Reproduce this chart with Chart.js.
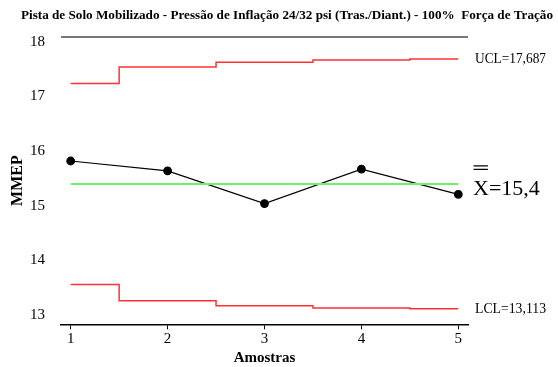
<!DOCTYPE html>
<html>
<head>
<meta charset="utf-8">
<script src="https://cdn.jsdelivr.net/npm/chart.js@4.4.1/dist/chart.umd.min.js"></script>
<style>
html,body{margin:0;padding:0;background:#fff;}
#wrap{width:558px;height:367px;position:relative;}
</style>
</head>
<body>
<div id="wrap"><canvas id="c" width="558" height="367"></canvas></div>
<script>
const chartTitle = "Pista de Solo Mobilizado - Pressão de Inflação 24/32 psi (Tras./Diant.) - 100%  Força de Tração";
const samples = [1, 2, 3, 4, 5];
const means = [15.82, 15.64, 15.04, 15.67, 15.21];
const ucl = [17.24, 17.54, 17.63, 17.67, 17.687];
const lcl = [13.56, 13.26, 13.17, 13.13, 13.113];
const centerValue = 15.4;
const yTicks = [13, 14, 15, 16, 17, 18];
const xTicks = [1, 2, 3, 4, 5];
const uclLabel = "UCL=17,687";
const lclLabel = "LCL=13,113";
const centerLabel = "X=15,4";

const pts = arr => samples.map((s, i) => ({x: s, y: arr[i]}));

const SERIF = "'Liberation Serif', 'Times New Roman', serif";

const annotPlugin = {
  id: 'annot',
  afterDraw(chart) {
    const ctx = chart.ctx;
    const ca = chart.chartArea;
    const ys = chart.scales.y;
    ctx.save();
    // top gray border line
    ctx.strokeStyle = '#777';
    ctx.lineWidth = 2;
    ctx.beginPath();
    ctx.moveTo(ca.left, ca.top);
    ctx.lineTo(ca.right, ca.top);
    ctx.stroke();
    // title
    ctx.fillStyle = '#000';
    ctx.font = "bold 12px " + SERIF;
    ctx.textBaseline = 'middle';
    ctx.textAlign = 'left';
    const tw = ctx.measureText(chartTitle).width;
    const target = 532;
    ctx.save();
    ctx.translate(21, 16);
    ctx.scale(target / tw, 1);
    ctx.fillText(chartTitle, 0, 0);
    ctx.restore();
    // UCL / LCL labels
    ctx.font = "14px " + SERIF;
    const fitText = (txt, x, y, w) => {
      const m = ctx.measureText(txt).width;
      ctx.save();
      ctx.translate(x, y);
      ctx.scale(w / m, 1);
      ctx.fillText(txt, 0, 0);
      ctx.restore();
    };
    fitText(uclLabel, 475, ys.getPixelForValue(ucl[ucl.length - 1]), 71);
    fitText(lclLabel, 475, ys.getPixelForValue(lcl[lcl.length - 1]), 71);
    // center label with double bar
    ctx.font = "22px " + SERIF;
    const cy = ys.getPixelForValue(centerValue) + 5;
    ctx.fillText(centerLabel, 473, cy);
    const xw = ctx.measureText("X").width;
    ctx.strokeStyle = '#000';
    ctx.lineWidth = 1.2;
    ctx.beginPath();
    ctx.moveTo(473.5, cy - 19.5); ctx.lineTo(473.5 + xw - 1.5, cy - 19.5);
    ctx.moveTo(473.5, cy - 23); ctx.lineTo(473.5 + xw - 1.5, cy - 23);
    ctx.stroke();
    ctx.restore();
  }
};

new Chart(document.getElementById('c'), {
  type: 'line',
  data: {
    datasets: [
      {
        label: 'UCL', data: pts(ucl), stepped: 'middle',
        borderColor: 'rgb(255,50,50)', borderWidth: 1.5, pointRadius: 0, fill: false
      },
      {
        label: 'LCL', data: pts(lcl), stepped: 'middle',
        borderColor: 'rgb(255,50,50)', borderWidth: 1.5, pointRadius: 0, fill: false
      },
      {
        label: 'Centro', data: pts(samples.map(() => centerValue)),
        borderColor: 'rgb(110,240,110)', borderWidth: 2, pointRadius: 0, fill: false
      },
      {
        label: 'MMEP', data: pts(means),
        borderColor: '#000', borderWidth: 1.2, pointRadius: 3.8,
        pointBackgroundColor: '#000', pointBorderColor: '#000', fill: false, tension: 0
      }
    ]
  },
  options: {
    responsive: false,
    animation: false,
    devicePixelRatio: 1,
    layout: { padding: { top: 37, right: 90, left: 0, bottom: 0 } },
    plugins: { legend: { display: false }, tooltip: { enabled: false }, title: { display: false } },
    scales: {
      x: {
        type: 'linear', min: 0.9, max: 5.1,
        afterBuildTicks: s => { s.ticks = xTicks.map(v => ({value: v})); },
        afterFit: s => { s.height = 42.7; },
        grid: { display: true, drawOnChartArea: false, drawTicks: true, tickLength: 5, color: '#000', lineWidth: 1 },
        border: { display: true, color: '#000', width: 1.5 },
        ticks: { color: '#000', font: { family: SERIF, size: 15 }, padding: 1, maxRotation: 0 },
        title: { display: true, text: 'Amostras', color: '#000', font: { family: SERIF, size: 15, weight: 'bold' }, padding: { top: 0, bottom: 0 } }
      },
      y: {
        type: 'linear', min: 12.83, max: 18.09,
        afterBuildTicks: s => { s.ticks = yTicks.map(v => ({value: v})); },
        afterFit: s => { s.width = 61; },
        grid: { display: false },
        border: { display: false },
        ticks: { color: '#000', font: { family: SERIF, size: 15 }, padding: 8 },
        title: { display: true, text: 'MMEP', color: '#000', font: { family: SERIF, size: 16, weight: 'bold' }, padding: { top: 8, bottom: 0 } }
      }
    }
  },
  plugins: [annotPlugin]
});
</script>
</body>
</html>
